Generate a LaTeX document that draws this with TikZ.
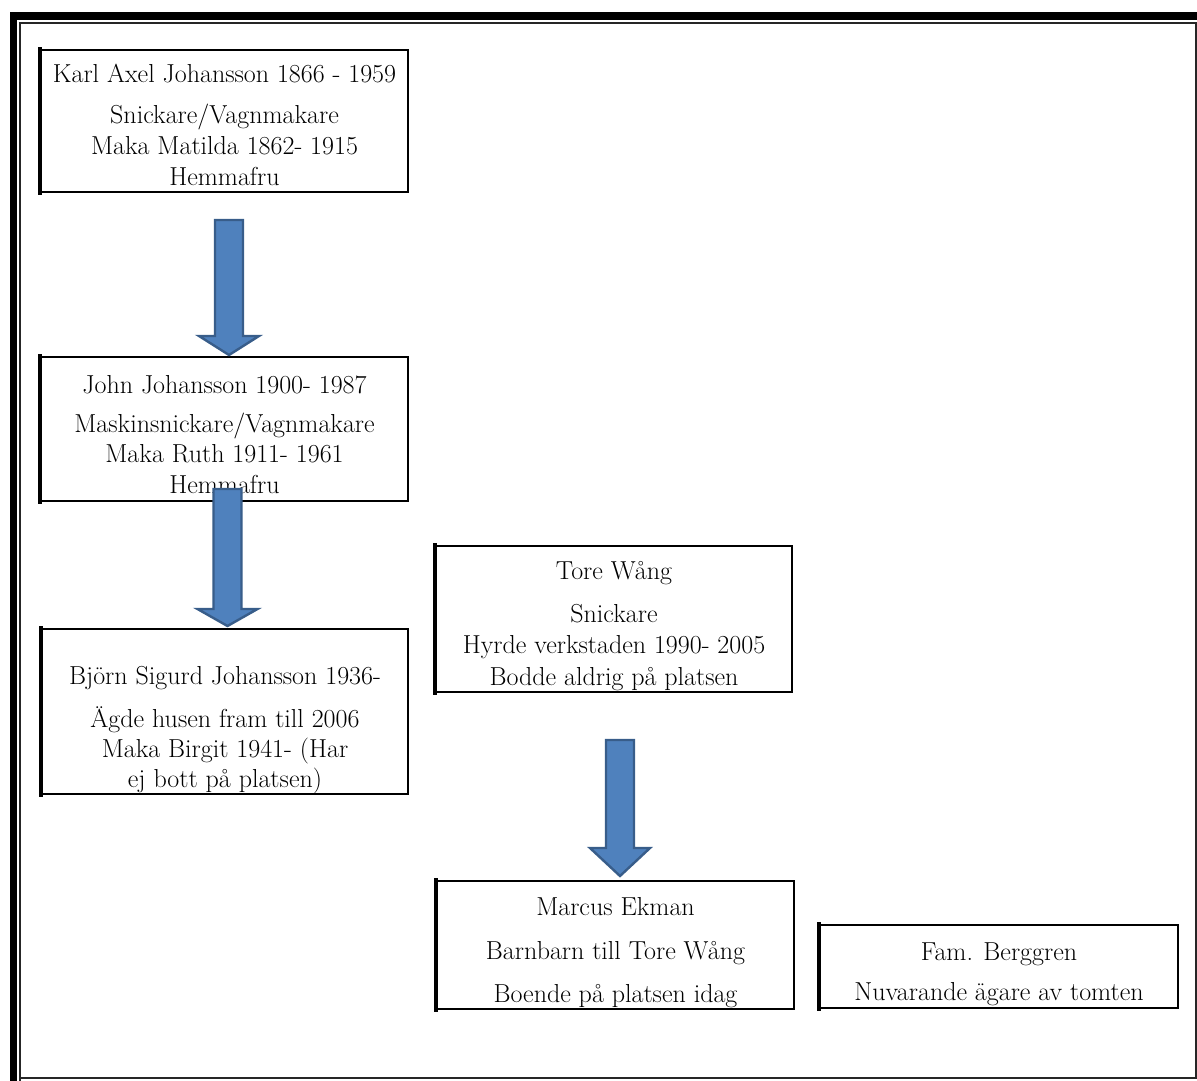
\documentclass[tikz,border=0pt]{standalone}
\usepackage{fontspec}
\usetikzlibrary{calc}
\definecolor{arrfill}{RGB}{79,129,189}
\definecolor{arrline}{RGB}{56,93,138}
\tikzset{
  box/.style={draw=black, line width=2.2pt, inner sep=0pt},
  leftedge/.style={line width=4pt, line cap=rect},
  txt/.style={anchor=base, inner sep=0pt, text=black, font=\fontsize{26}{30}\selectfont},
  blk/.style={fill=arrfill, draw=arrline, line width=2.4pt, line join=miter},
  frameband/.style={fill=black},
  frameline/.style={draw=black!85, line width=1.4pt},
}
\begin{document}
\begin{tikzpicture}[x=1pt,y=-1pt]
\useasboundingbox (0,0) rectangle (1197,1081);
% page frame
\fill[frameband] (10,12) rectangle (1197,20);
\fill[frameband] (10,12) rectangle (17,1081);
\draw[frameline] (20,1081) -- (20,23) -- (1197,23);
\draw[frameline] (20,1078) -- (1196,1078) -- (1196,23);

% boxes
\node[box, minimum width=367pt, minimum height=142pt] (k) at (224.5,121) {};
\node[box, minimum width=367pt, minimum height=144pt] (j) at (224.5,429) {};
\node[box, minimum width=366pt, minimum height=165pt] (b) at (225,711.5) {};
\node[box, minimum width=356pt, minimum height=146pt] (t) at (614,619) {};
\node[box, minimum width=357pt, minimum height=128pt] (m) at (615.5,945) {};
\node[box, minimum width=358pt, minimum height=83pt] (g) at (999,966.5) {};
\foreach \n in {k,j,b,t,m,g}
  \draw[leftedge] (\n.north west) -- (\n.south west);

% texts
\node[txt] (k1) at (224.5,83) {Karl Axel Johansson 1866 - 1959};
\node[txt] (k2) at (224.5,123) {Snickare/Vagnmakare};
\node[txt] (k3) at (224.5,154) {Maka Matilda 1862- 1915};
\node[txt] (k4) at (224.5,185) {Hemmafru};

\node[txt] (j1) at (224.5,393) {John Johansson 1900- 1987};
\node[txt] (j2) at (224.5,432) {Maskinsnickare/Vagnmakare};
\node[txt] (j3) at (224.5,462) {Maka Ruth 1911- 1961};
\node[txt] (j4) at (224.5,493) {Hemmafru};

\node[txt] (b1) at (225,684) {Björn Sigurd Johansson 1936-};
\node[txt] (b2) at (225,727) {Ägde husen fram till 2006};
\node[txt] (b3) at (225,757) {Maka Birgit 1941- (Har};
\node[txt] (b4) at (225,787) {ej bott på platsen)};

\node[txt] (t1) at (614,579) {Tore Wång};
\node[txt] (t2) at (614,622) {Snickare};
\node[txt] (t3) at (614,653) {Hyrde verkstaden 1990- 2005};
\node[txt] (t4) at (614,685) {Bodde aldrig på platsen};

\node[txt] (m1) at (615.5,915) {Marcus Ekman};
\node[txt] (m2) at (615.5,959) {Barnbarn till Tore Wång};
\node[txt] (m3) at (615.5,1002) {Boende på platsen idag};

\node[txt] (g1) at (999,960) {Fam. Berggren};
\node[txt] (g2) at (999,1000) {Nuvarande ägare av tomten};

% block arrows: start, tip, head length
\newcommand\blockarrow[3]{%
  \draw[blk] ($(#1)+(-14,0)$) -- ($(#1)+(14,0)$) -- ($(#2)+(14,-#3)$) -- ($(#2)+(30,-#3)$)
    -- (#2) -- ($(#2)+(-30,-#3)$) -- ($(#2)+(-14,-#3)$) -- cycle;}
\coordinate (a1s) at (229,220);
\coordinate (a1e) at (229,355);
\coordinate (a2s) at (227.5,489);
\coordinate (a2e) at (227.5,626);
\coordinate (a3s) at (620,740);
\coordinate (a3e) at (620,876);
\blockarrow{a1s}{a1e}{19}
\blockarrow{a2s}{a2e}{17}
\blockarrow{a3s}{a3e}{28}
\end{tikzpicture}
\end{document}
